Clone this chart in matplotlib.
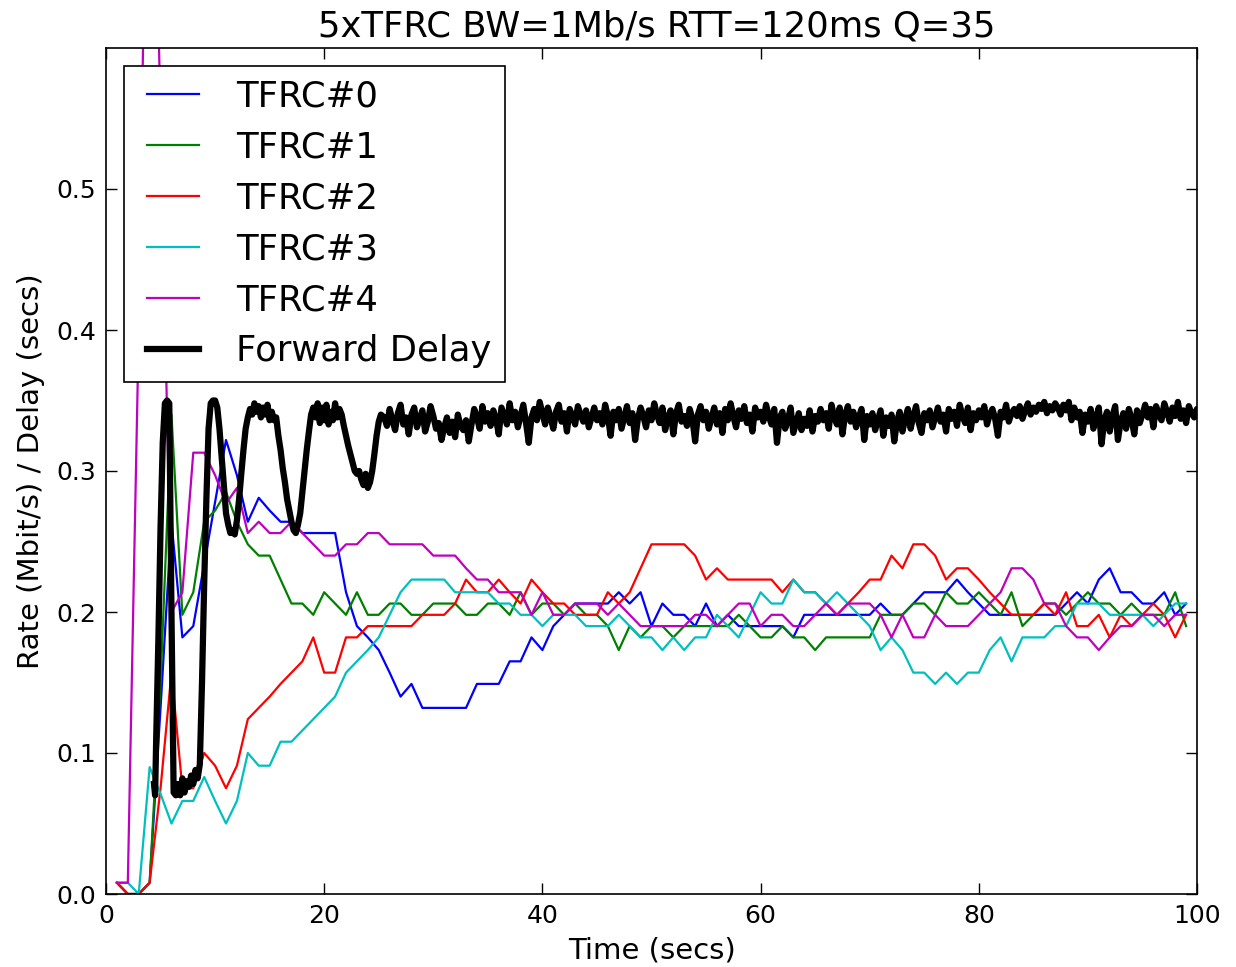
import numpy as np
import matplotlib
matplotlib.use("Agg")
import matplotlib.pyplot as plt
from matplotlib.lines import Line2D
from matplotlib.legend_handler import HandlerLine2D

# ---- data: sending rates (Mbit/s), one sample per second, t = 1..99 ----
t_rate = np.arange(1, 100)

tfrc0 = [0.008, 0.0, 0.0, 0.008, 0.132, 0.264, 0.182, 0.19, 0.234, 0.278,
         0.322, 0.297, 0.264, 0.281, 0.272, 0.264, 0.264, 0.256, 0.256, 0.256,
         0.256, 0.214, 0.19, 0.182, 0.173, 0.157, 0.14, 0.149, 0.132, 0.132,
         0.132, 0.132, 0.132, 0.149, 0.149, 0.149, 0.165, 0.165, 0.182, 0.173,
         0.19, 0.198, 0.206, 0.206, 0.206, 0.206, 0.214, 0.206, 0.214, 0.19,
         0.206, 0.198, 0.198, 0.19, 0.206, 0.19, 0.198, 0.19, 0.19, 0.19,
         0.19, 0.19, 0.182, 0.198, 0.198, 0.198, 0.198, 0.198, 0.198, 0.198,
         0.206, 0.198, 0.198, 0.206, 0.214, 0.214, 0.214, 0.223, 0.214, 0.206,
         0.198, 0.198, 0.198, 0.198, 0.198, 0.198, 0.198, 0.206, 0.214, 0.206,
         0.223, 0.231, 0.214, 0.214, 0.206, 0.206, 0.214, 0.198, 0.206]

tfrc1 = [0.008, 0.0, 0.0, 0.008, 0.15, 0.34, 0.198, 0.214, 0.264, 0.272,
         0.285, 0.264, 0.248, 0.24, 0.24, 0.223, 0.206, 0.206, 0.198, 0.214,
         0.206, 0.198, 0.214, 0.198, 0.198, 0.206, 0.206, 0.198, 0.198, 0.206,
         0.206, 0.206, 0.198, 0.198, 0.206, 0.206, 0.198, 0.214, 0.198, 0.206,
         0.206, 0.198, 0.206, 0.198, 0.198, 0.19, 0.173, 0.19, 0.182, 0.19,
         0.19, 0.182, 0.19, 0.19, 0.19, 0.19, 0.19, 0.198, 0.19, 0.182,
         0.182, 0.19, 0.182, 0.182, 0.173, 0.182, 0.182, 0.182, 0.182, 0.182,
         0.198, 0.198, 0.198, 0.206, 0.206, 0.198, 0.214, 0.206, 0.206, 0.214,
         0.206, 0.198, 0.214, 0.19, 0.198, 0.206, 0.206, 0.198, 0.206, 0.214,
         0.206, 0.206, 0.198, 0.206, 0.198, 0.198, 0.198, 0.214, 0.19]

tfrc2 = [0.008, 0.0, 0.0, 0.008, 0.075, 0.157, 0.075, 0.075, 0.1, 0.091,
         0.075, 0.091, 0.124, 0.132, 0.14, 0.149, 0.157, 0.165, 0.182, 0.157,
         0.157, 0.182, 0.182, 0.19, 0.19, 0.19, 0.19, 0.19, 0.198, 0.198,
         0.198, 0.206, 0.223, 0.214, 0.214, 0.223, 0.214, 0.206, 0.223, 0.214,
         0.206, 0.206, 0.198, 0.198, 0.198, 0.214, 0.206, 0.214, 0.231, 0.248,
         0.248, 0.248, 0.248, 0.24, 0.223, 0.231, 0.223, 0.223, 0.223, 0.223,
         0.223, 0.214, 0.223, 0.214, 0.214, 0.206, 0.198, 0.206, 0.214, 0.223,
         0.223, 0.24, 0.231, 0.248, 0.248, 0.24, 0.223, 0.231, 0.231, 0.223,
         0.214, 0.206, 0.198, 0.198, 0.198, 0.206, 0.198, 0.214, 0.19, 0.19,
         0.198, 0.182, 0.198, 0.19, 0.198, 0.206, 0.198, 0.182, 0.198]

tfrc3 = [0.008, 0.008, 0.0, 0.09, 0.071, 0.05, 0.066, 0.066, 0.083, 0.066,
         0.05, 0.066, 0.1, 0.091, 0.091, 0.108, 0.108, 0.116, 0.124, 0.132,
         0.14, 0.157, 0.165, 0.173, 0.182, 0.198, 0.214, 0.223, 0.223, 0.223,
         0.223, 0.214, 0.214, 0.214, 0.214, 0.206, 0.206, 0.198, 0.198, 0.19,
         0.198, 0.198, 0.198, 0.19, 0.19, 0.19, 0.198, 0.19, 0.182, 0.182,
         0.173, 0.182, 0.173, 0.182, 0.182, 0.198, 0.19, 0.182, 0.198, 0.214,
         0.206, 0.206, 0.223, 0.214, 0.214, 0.206, 0.214, 0.206, 0.198, 0.19,
         0.173, 0.182, 0.173, 0.157, 0.157, 0.149, 0.157, 0.149, 0.157, 0.157,
         0.173, 0.182, 0.165, 0.182, 0.182, 0.182, 0.19, 0.19, 0.206, 0.206,
         0.206, 0.198, 0.198, 0.198, 0.198, 0.19, 0.198, 0.206, 0.206]

tfrc4 = [0.008, 0.008, 0.4, 0.91, 0.55, 0.2, 0.214, 0.313, 0.313, 0.297,
         0.277, 0.288, 0.256, 0.264, 0.256, 0.256, 0.264, 0.256, 0.248, 0.24,
         0.24, 0.248, 0.248, 0.256, 0.256, 0.248, 0.248, 0.248, 0.248, 0.24,
         0.24, 0.24, 0.231, 0.223, 0.223, 0.214, 0.214, 0.214, 0.198, 0.214,
         0.198, 0.198, 0.206, 0.206, 0.206, 0.198, 0.206, 0.198, 0.19, 0.19,
         0.19, 0.19, 0.19, 0.198, 0.198, 0.19, 0.198, 0.206, 0.206, 0.19,
         0.198, 0.198, 0.19, 0.19, 0.198, 0.206, 0.198, 0.206, 0.206, 0.206,
         0.198, 0.182, 0.198, 0.182, 0.182, 0.198, 0.19, 0.19, 0.19, 0.198,
         0.206, 0.214, 0.231, 0.231, 0.223, 0.206, 0.206, 0.19, 0.182, 0.182,
         0.173, 0.182, 0.19, 0.19, 0.198, 0.198, 0.19, 0.198, 0.198]

# ---- data: forward delay (ms) ----
delay_t_early = [4.4, 4.5, 4.6, 4.8, 5.0, 5.2, 5.4, 5.6, 5.8, 6.0, 6.2, 6.4, 6.6, 6.8,
                 7.0, 7.2, 7.4, 7.6, 7.8, 8.0, 8.2, 8.4, 8.6, 8.8, 9.0, 9.2, 9.4, 9.6,
                 9.8, 10.0, 10.2, 10.4, 10.6, 10.8, 11.0, 11.2, 11.4, 11.6, 11.8, 12.0,
                 12.2, 12.4, 12.6, 12.8, 13.0, 13.2, 13.4, 13.6, 13.8, 14.0, 14.2, 14.4,
                 14.6, 14.8, 15.0, 15.2, 15.4, 15.6, 15.8, 16.0, 16.2, 16.4, 16.6, 16.8,
                 17.0, 17.2, 17.4, 17.6, 17.8, 18.0, 18.2, 18.4, 18.6, 18.8, 19.0, 19.2,
                 19.4, 19.6, 19.8, 20.0, 20.2, 20.4, 20.6, 20.8, 21.0, 21.2, 21.4, 21.6,
                 21.8, 22.0, 22.2, 22.4, 22.6, 22.8, 23.0, 23.2, 23.4, 23.6, 23.8, 24.0,
                 24.2, 24.4, 24.6, 24.8, 25.0, 25.2]
delay_ms_early = [78, 70, 110, 180, 260, 320, 348, 350, 348, 200, 72, 70, 78, 70,
                  82, 72, 80, 76, 84, 78, 88, 82, 92, 150, 220, 280, 330, 348,
                  350, 350, 345, 330, 310, 290, 270, 262, 256, 258, 255, 265,
                  280, 298, 315, 330, 338, 344, 340, 348, 342, 346, 338, 345,
                  340, 347, 336, 342, 336, 338, 325, 315, 302, 292, 280, 272,
                  264, 258, 256, 262, 270, 285, 300, 315, 328, 340, 345, 338,
                  348, 334, 345, 336, 347, 333, 342, 336, 348, 338, 344, 340,
                  332, 325, 318, 312, 306, 300, 298, 300, 294, 290, 298, 288,
                  292, 300, 312, 325, 335, 340]
delay_t0_late = 25.5
delay_dt_late = 0.25
delay_ms_late = [
    338, 332, 344, 336, 329, 341, 347, 333, 338, 326, 340, 345, 331, 337, 343, 328, 335, 346, 339, 330,
    334, 322, 331, 338, 327, 335, 324, 340, 332, 329, 336, 321, 333, 344, 338, 330, 346, 335, 341, 332,
    343, 337, 326, 345, 339, 333, 348, 336, 342, 331, 339, 347, 334, 320, 338, 344, 336, 349, 341, 333,
    345, 338, 330, 342, 347, 335, 341, 328, 344, 339, 333, 346, 340, 335, 343, 331, 338, 345, 336, 341,
    333, 347, 339, 325, 342, 336, 344, 330, 338, 346, 334, 341, 322, 337, 345, 339, 331, 343, 336, 348,
    340, 334, 345, 329, 338, 343, 326, 341, 347, 335, 339, 332, 344, 337, 321, 340, 346, 336, 342, 330,
    338, 345, 333, 341, 327, 344, 336, 348, 339, 331, 343, 337, 346, 334, 340, 328, 345, 338, 342, 335,
    347, 339, 333, 344, 320, 338, 342, 330, 336, 345, 327, 334, 341, 329, 337, 332, 343, 328, 339, 335,
    344, 336, 341, 330, 347, 338, 333, 345, 326, 340, 346, 335, 342, 331, 338, 344, 322, 339, 333, 341,
    329, 336, 343, 325, 338, 332, 340, 321, 335, 342, 328, 337, 344, 330, 339, 346, 334, 327, 341, 336,
    343, 331, 338, 345, 335, 340, 328, 344, 337, 342, 332, 347, 339, 334, 345, 329, 341, 336, 343, 338,
    346, 333, 340, 344, 337, 325, 342, 338, 347, 335, 341, 344, 339, 346, 337, 343, 348, 340, 345, 342,
    347, 344, 349, 341, 346, 343, 348, 345, 340, 347, 343, 349, 336, 345, 338, 342, 327, 340, 335, 344,
    330, 338, 345, 319, 336, 342, 328, 339, 346, 322, 335, 341, 330, 344, 337, 326, 343, 334, 340, 347,
    338, 344, 331, 346, 340, 336, 348, 342, 335, 345, 339, 349, 337, 343, 334, 346, 341, 338, 344, 339,
]

labels = ["TFRC#0", "TFRC#1", "TFRC#2", "TFRC#3", "TFRC#4", "Forward Delay"]
colors = ["b", "g", "r", "c", "m", "k"]
title = "5xTFRC BW=1Mb/s RTT=120ms Q=35"

# ---- build delay series ----
t_late = delay_t0_late + delay_dt_late * np.arange(len(delay_ms_late))
delay_t = np.concatenate([np.array(delay_t_early), t_late])
delay_v = np.concatenate([np.array(delay_ms_early), np.array(delay_ms_late)]) / 1000.0

# ---- figure ----
fig = plt.figure(figsize=(12.36, 9.67), dpi=100)
ax = fig.add_axes([106 / 1236, 73 / 967, 1091 / 1236, 846 / 967])

for series, c, lab in zip([tfrc0, tfrc1, tfrc2, tfrc3, tfrc4], colors[:5], labels[:5]):
    ax.plot(t_rate, series, color=c, lw=1.6, label=lab)
ax.plot(delay_t, delay_v, color="k", lw=4.5, label=labels[5], solid_joinstyle="round")

ax.set_xlim(0, 100)
ax.set_ylim(0, 0.6)
ax.set_xticks([0, 20, 40, 60, 80, 100])
ax.set_yticks([0.0, 0.1, 0.2, 0.3, 0.4, 0.5])
ax.set_yticklabels(["0.0", "0.1", "0.2", "0.3", "0.4", "0.5"])
ax.tick_params(direction="in", length=8, width=1, top=True, right=True,
               labelsize=18, pad=7)
for sp in ax.spines.values():
    sp.set_linewidth(1.2)

ax.set_title(title, fontsize=25.5, pad=8, x=0.505)
ax.set_xlabel("Time (secs)", fontsize=21, labelpad=6)
ax.set_ylabel("Rate (Mbit/s) / Delay (secs)", fontsize=21, labelpad=8)

leg = ax.legend(loc="upper left", fontsize=25.5, handlelength=1.75,
                handletextpad=1.05, labelspacing=0.48, borderpad=0.38,
                borderaxespad=0.5, fancybox=False, framealpha=1, shadow=False,
                handler_map={Line2D: HandlerLine2D(xpad=0.28)})
leg.get_frame().set_edgecolor("k")
leg.get_frame().set_linewidth(1.2)

fig.savefig("out.png", dpi=100)
